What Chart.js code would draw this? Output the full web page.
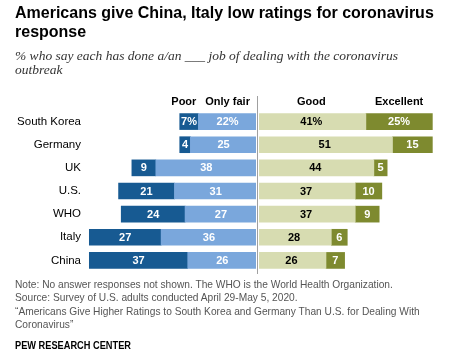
<!DOCTYPE html>
<html><head><meta charset="utf-8">
<script src="https://cdn.jsdelivr.net/npm/chart.js@4.4.1/dist/chart.umd.min.js"></script>
<style>
html,body{margin:0;padding:0;background:#fff;}
#wrap{position:relative;width:450px;height:356px;overflow:hidden;}
#c{position:absolute;left:0;top:0;}
.t{position:absolute;left:15px;white-space:nowrap;margin:0;}
#title{top:2.5px;font:bold 16px "Liberation Sans",sans-serif;line-height:19px;color:#000;}
#sub{top:49px;font:italic 13.5px "Liberation Serif",serif;line-height:14px;color:#333;}
#notes{top:278px;font:10.2px "Liberation Sans",sans-serif;line-height:13.4px;color:#555;}
#pew{top:339px;font:bold 11px "Liberation Sans",sans-serif;line-height:13px;color:#000;transform:scaleX(0.84);transform-origin:0 0;}
</style></head>
<body><div id="wrap">
<canvas id="c" width="450" height="356"></canvas>
<div class="t" id="title">Americans give China, Italy low ratings for coronavirus<br>response</div>
<div class="t" id="sub">% who say each has done a/an ___ job of dealing with the coronavirus<br>outbreak</div>
<div class="t" id="notes">Note: No answer responses not shown. The WHO is the World Health Organization.<br>Source: Survey of U.S. adults conducted April 29-May 5, 2020.<br>“Americans Give Higher Ratings to South Korea and Germany Than U.S. for Dealing With<br>Coronavirus”</div>
<div class="t" id="pew">PEW RESEARCH CENTER</div>
</div>
<script>
const categories = ["South Korea","Germany","UK","U.S.","WHO","Italy","China"];
const poor = [7,4,9,21,24,27,37];
const onlyFair = [22,25,38,31,27,36,26];
const good = [41,51,44,37,37,28,26];
const excellent = [25,15,5,10,9,6,7];
const seriesNames = ["Only fair","Poor","Good","Excellent"];

const colors = {poor:"#175a92", fair:"#7aa7dc", good:"#d7dcb1", exc:"#7e8a2f"};
const labelColors = ["#ffffff","#ffffff","#000000","#ffffff"];

const valueLabels = {
  id:"valueLabels",
  afterDatasetsDraw(chart){
    const ctx = chart.ctx;
    ctx.save();
    ctx.font = "bold 11px 'Liberation Sans', sans-serif";
    ctx.textAlign = "center";
    ctx.textBaseline = "middle";
    chart.data.datasets.forEach((ds,di)=>{
      const meta = chart.getDatasetMeta(di);
      meta.data.forEach((el,i)=>{
        const v = Math.abs(ds.data[i]);
        const p = el.getProps(["x","y","base"],true);
        const cx = (p.x + p.base)/2;
        ctx.fillStyle = labelColors[di];
        ctx.fillText(v + (i===0 ? "%" : ""), cx, p.y+0.5);
      });
    });
    ctx.restore();
  }
};

const headerAndLine = {
  id:"headerAndLine",
  afterDatasetsDraw(chart){
    const ctx = chart.ctx;
    const xs = chart.scales.x;
    const x0 = Math.round(xs.getPixelForValue(0));
    ctx.save();
    ctx.fillStyle = "#fff";
    ctx.fillRect(x0-1, chart.chartArea.top, 3, chart.chartArea.bottom-chart.chartArea.top);
    ctx.strokeStyle = "#a0a0a0";
    ctx.lineWidth = 1;
    ctx.beginPath();
    ctx.moveTo(x0+0.5, 96);
    ctx.lineTo(x0+0.5, 274);
    ctx.stroke();
    ctx.font = "bold 11px 'Liberation Sans', sans-serif";
    ctx.fillStyle = "#000";
    ctx.textBaseline = "alphabetic";
    const hy = 105;
    chart.data.datasets.forEach((ds,di)=>{
      const el = chart.getDatasetMeta(di).data[0];
      const p = el.getProps(["x","base"],true);
      const left = Math.min(p.x,p.base), right = Math.max(p.x,p.base);
      if (ds.label === "Poor") {
        ctx.textAlign = "right";
        ctx.fillText(ds.label, right-2, hy);
      } else {
        ctx.textAlign = "center";
        ctx.fillText(ds.label, (left+right)/2, hy);
      }
    });
    ctx.restore();
  }
};

new Chart(document.getElementById("c"), {
  type:"bar",
  data:{
    labels:categories,
    datasets:[
      {label:"Only fair", data:onlyFair.map(v=>-v), backgroundColor:colors.fair},
      {label:"Poor", data:poor.map(v=>-v), backgroundColor:colors.poor},
      {label:"Good", data:good, backgroundColor:colors.good},
      {label:"Excellent", data:excellent, backgroundColor:colors.exc}
    ]
  },
  options:{
    indexAxis:"y",
    responsive:false,
    devicePixelRatio:1,
    animation:false,
    events:[],
    layout:{padding:{left:0,right:7,top:110,bottom:84}},
    datasets:{bar:{barThickness:16, borderWidth:0, stack:"s"}},
    plugins:{legend:{display:false}, tooltip:{enabled:false}, title:{display:false}},
    scales:{
      x:{stacked:true, min:-65, max:70, display:false},
      y:{stacked:true,
         afterFit(s){ s.width = 84; },
         grid:{display:false, drawTicks:false},
         border:{display:false},
         ticks:{padding:3, color:"#000", font:{family:"'Liberation Sans', sans-serif", size:11.5}}
      }
    }
  },
  plugins:[valueLabels, headerAndLine]
});
</script>
</body></html>
